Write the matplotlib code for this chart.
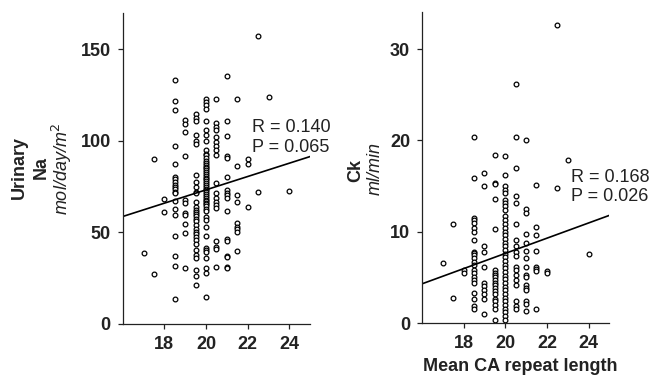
import numpy as np
import matplotlib
matplotlib.use('Agg')
import matplotlib.pyplot as plt

plt.rcParams['font.family'] = ['Liberation Sans', 'DejaVu Sans']

# repeat lengths (x) and the values read in each column
na_x = [17, 17.5, 18, 18.5, 19, 19.5, 20, 20.5, 21, 21.5, 22, 22.5, 23, 24]
na_y = [
    [38.6],
    [90.0, 27.3],
    [68.2, 61.3],
    [133.1, 121.7, 116.7, 97.3, 87.6, 80.4, 79.0, 77.6, 76.2, 74.9, 73.5, 72.0,
     71.3, 67.3, 62.6, 59.8, 48.0, 37.1, 31.8, 13.6],
    [111.3, 109.5, 104.9, 91.7, 68.0, 66.2, 60.4, 59.5, 54.4, 49.8, 30.4],
    [115, 112.4, 111, 103, 100, 98.6, 81.3, 77.6, 75.1, 72.2, 71.3, 66.5, 64.0,
     62.0, 61.3, 60.2, 59.0, 57.5, 56.0, 54.0, 52.0, 50.5, 49.0, 47.5, 45.8,
     43.5, 40.4, 37.6, 36.2, 29.5, 26.4, 21.1],
    [122.7, 121.3, 119.5, 117.5, 111, 106, 103, 100, 94.9, 93, 92.2, 90.5, 89.0,
     88, 87, 86, 85, 84, 83, 82, 81, 80, 79, 78, 77, 76, 75, 74, 73, 72, 71, 70,
     69, 68, 67, 66, 65.8, 64.5, 63, 61.5, 58.5, 56.8, 53.1, 48, 41.3, 40.4,
     39.4, 36.2, 30.7, 28, 14.6],
    [122.7, 109.6, 107.6, 105.8, 102.2, 99.5, 97.3, 95, 92.2, 76.8, 71.3, 68.6,
     66.7, 64.9, 63.6, 45.3, 42.2, 40.9, 31.3],
    [135.3, 110.7, 102.7, 91.8, 90.9, 80.4, 73.1, 71.6, 70.4, 68.6, 61.7, 46.2,
     45.3, 37.1, 36.4, 31.3, 30.7],
    [122.7, 86.4, 70.4, 66.7, 55.3, 53.1, 51.8, 50.0, 40.0],
    [90.0, 87.6, 64.0],
    [157.1, 72.2],
    [124.2],
    [72.9],
]

ck_x = [17, 17.5, 18, 18.5, 19, 19.5, 20, 20.5, 21, 21.5, 22, 22.5, 23, 24]
ck_y = [
    [6.6],
    [10.8, 2.8],
    [5.8, 5.5],
    [20.4, 15.9, 11.5, 11.3, 10.95, 10.4, 10.0, 9.1, 7.8, 7.7, 7.5, 7.1, 6.7,
     6.4, 5.8, 5.5, 5.1, 4.7, 4.4, 3.3, 2.6, 1.9, 1.5],
    [16.4, 15.0, 8.5, 7.8, 6.2, 4.4, 4.1, 3.6, 3.2, 2.6, 1.0],
    [18.4, 15.3, 15.2, 13.6, 10.3, 5.8, 5.5, 5.3, 5.0, 4.7, 4.4, 4.2, 3.8, 3.5,
     3.2, 2.7, 2.4, 2.0, 1.6, 0.3],
    [18.3, 16.2, 15.0, 14.6, 14.2, 13.5, 13.2, 12.8, 12.4, 11.7, 11.3, 10.9,
     10.4, 10.0, 9.6, 9.2, 8.8, 8.4, 8.0, 7.6, 7.2, 6.8, 6.4, 6.0, 5.6, 5.2,
     4.8, 4.4, 4.0, 3.6, 3.2, 2.8, 2.4, 2.0, 1.6, 1.2, 0.8, 0.4],
    [26.2, 20.4, 17.0, 13.9, 13.1, 10.8, 9.1, 8.5, 7.8, 7.3, 6.2, 5.8, 5.3, 4.7,
     4.2, 2.4, 1.9, 1.5],
    [20.1, 12.5, 12.1, 9.8, 8.8, 7.9, 7.1, 6.2, 5.3, 5.1, 4.2, 3.8, 3.6, 2.4,
     2.1, 1.3],
    [15.1, 10.5, 9.7, 7.9, 6.2, 5.9, 5.7, 1.5],
    [5.7, 5.5],
    [32.6, 14.8],
    [17.9],
    [7.6],
]

# regression line end points (x, fitted y)
na_fit_x = [16, 25]
na_fit_y = [58.7, 91.5]
ck_fit_x = [16, 25]
ck_fit_y = [4.3, 11.8]

na_stats = ['R = 0.140', 'P = 0.065']
ck_stats = ['R = 0.168', 'P = 0.026']


def flatten(xs, ys):
    px, py = [], []
    for x, col in zip(xs, ys):
        px.extend([x] * len(col))
        py.extend(col)
    return np.array(px), np.array(py)


def style_axis(ax, ylim, yticks):
    ax.set_xlim(16, 25)
    ax.set_ylim(*ylim)
    ax.set_xticks([18, 20, 22, 24])
    ax.set_yticks(yticks)
    for s in ['top', 'right']:
        ax.spines[s].set_visible(False)
    for s in ['left', 'bottom']:
        ax.spines[s].set_linewidth(0.9)
        ax.spines[s].set_color('#222222')
    ax.tick_params(direction='out', length=3.5, width=0.9, color='#222222',
                   labelsize=13, pad=5)
    for lab in ax.get_xticklabels() + ax.get_yticklabels():
        lab.set_fontweight('bold')
        lab.set_color('#222222')


fig = plt.figure(figsize=(6.49, 3.78), dpi=100)
ax1 = fig.add_axes([0.189, 0.143, 0.289, 0.823])
ax2 = fig.add_axes([0.650, 0.145, 0.289, 0.822])

x1, y1 = flatten(na_x, na_y)
ax1.plot(x1, y1, 'o', ms=3.4, mfc='white', mec='black', mew=0.9, clip_on=False)
ax1.plot(na_fit_x, na_fit_y, color='black', lw=1.2)
style_axis(ax1, (0, 170), [0, 50, 100, 150])
ax1.text(22.2, 104.9, na_stats[0], fontsize=13, color='#222222')
ax1.text(22.2, 94.0, na_stats[1], fontsize=13, color='#222222')

x2, y2 = flatten(ck_x, ck_y)
ax2.plot(x2, y2, 'o', ms=3.4, mfc='white', mec='black', mew=0.9, clip_on=False)
ax2.plot(ck_fit_x, ck_fit_y, color='black', lw=1.2)
style_axis(ax2, (0, 34), [0, 10, 20, 30])
ax2.text(23.15, 15.5, ck_stats[0], fontsize=13, color='#222222')
ax2.text(23.15, 13.4, ck_stats[1], fontsize=13, color='#222222')

# y labels
fig.text(19 / 649, 0.556, 'Urinary', rotation=90, ha='center', va='center',
         fontsize=13, fontweight='bold', color='#222222')
fig.text(41 / 649, 0.556, 'Na', rotation=90, ha='center', va='center',
         fontsize=13, fontweight='bold', color='#222222')
fig.text(62 / 649, 0.553, 'mol/day/m$^2$', rotation=90, ha='center', va='center',
         fontsize=13, fontstyle='italic', color='#222222')
fig.text(356 / 649, 0.548, 'Ck', rotation=90, ha='center', va='center',
         fontsize=13, fontweight='bold', color='#222222')
fig.text(375 / 649, 0.553, 'ml/min', rotation=90, ha='center', va='center',
         fontsize=13, fontstyle='italic', color='#222222')

fig.text(520 / 649, 1 - 366.7 / 378, 'Mean CA repeat length', ha='center',
         va='center', fontsize=13, fontweight='bold', color='#222222')

fig.savefig('out.png', dpi=100)
